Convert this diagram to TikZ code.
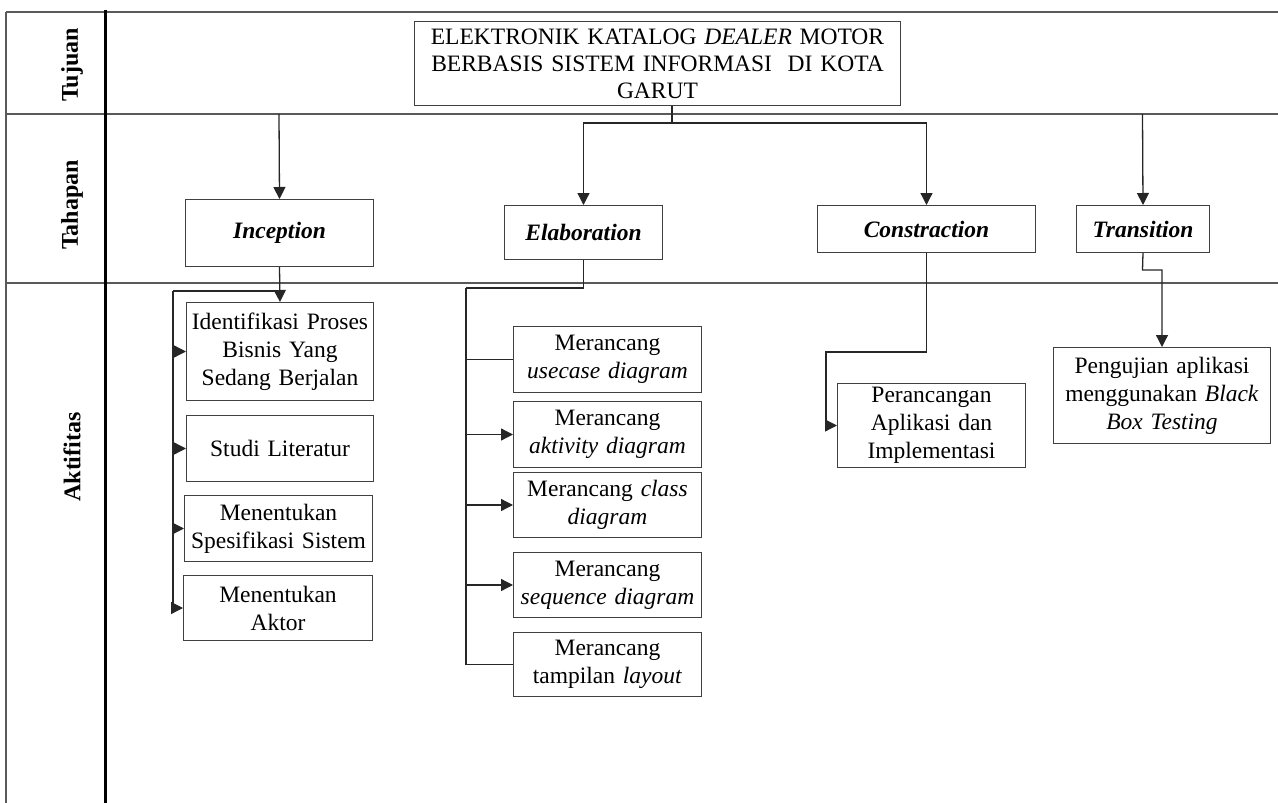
\documentclass[tikz,border=0pt]{standalone}
\usepackage{fontspec}
\setmainfont{Liberation Serif}
\usetikzlibrary{arrows.meta,calc}
\begin{document}
\begin{tikzpicture}[x=1pt,y=-1pt,
  box/.style={draw=black!75,line width=1pt,align=center,inner sep=0pt,anchor=north west,
    font=\fontsize{23.5}{28}\selectfont},
  stage/.style={box,font=\fontsize{23.5}{28}\selectfont\bfseries\itshape},
  lane/.style={draw=black!65,line width=1.5pt},
  lanelabel/.style={rotate=90,font=\fontsize{24}{28}\selectfont\bfseries,inner sep=0pt},
  conn/.style={draw=black!85,line width=1.3pt},
  arr/.style={conn,-{Triangle[length=12pt,width=12pt]}}]
\useasboundingbox (0,0) rectangle (1278,803);
% swimlanes
\draw[lane] (6,12) -- (1278,12);
\draw[lane] (6,114) -- (1278,114);
\draw[lane] (6,283) -- (1278,283);
\draw[lane] (6,12) -- (6,803);
\draw[line width=3pt] (105,10) -- (105,803);
\node[lanelabel] (lt) at (72,65) {Tujuan};
\node[lanelabel] (lh) at (72,205) {Tahapan};
\node[lanelabel] (la) at (72,457) {Aktifitas};
% title
\node[box,font=\fontsize{23.5}{27}\selectfont,text width=486pt,minimum height=84pt] (title) at (414,21)
  {ELEKTRONIK KATALOG \textit{DEALER} MOTOR\\BERBASIS SISTEM INFORMASI\ \ DI KOTA\\GARUT};
% stages
\node[stage,text width=188pt,minimum height=67pt] (inc) at (185,199) {Inception};
\node[stage,text width=158pt,minimum height=54pt] (ela) at (504,205) {Elaboration};
\node[stage,text width=218pt,minimum height=47pt] (con) at (817,205) {Constraction};
\node[stage,text width=133pt,minimum height=47pt] (tra) at (1076,205) {Transition};
% inception activities
\node[box,text width=187pt,minimum height=98pt] (idf) at (186,302) {Identifikasi Proses\\Bisnis Yang\\Sedang Berjalan};
\node[box,text width=187pt,minimum height=66pt] (stu) at (186,415) {Studi Literatur};
\node[box,text width=188pt,minimum height=66pt] (spe) at (184,495) {Menentukan\\Spesifikasi Sistem};
\node[box,text width=189pt,minimum height=65pt] (akt) at (183,575) {Menentukan\\Aktor};
% elaboration activities
\node[box,text width=188pt,minimum height=66pt] (use) at (513,326) {Merancang\\\textit{usecase diagram}};
\node[box,text width=188pt,minimum height=66pt] (act) at (513,401) {Merancang\\\textit{aktivity diagram}};
\node[box,text width=188pt,minimum height=65pt] (cla) at (513,472) {Merancang \textit{class}\\\textit{diagram}};
\node[box,text width=188pt,minimum height=65pt] (seq) at (513,552) {Merancang\\\textit{sequence diagram}};
\node[box,text width=188pt,minimum height=64pt] (lay) at (513,632) {Merancang\\tampilan \textit{layout}};
% construction / transition activities
\node[box,text width=188pt,minimum height=84pt] (per) at (837,383) {Perancangan\\Aplikasi dan\\Implementasi};
\node[box,text width=217pt,minimum height=96pt] (pen) at (1053,347) {Pengujian aplikasi\\menggunakan \textit{Black}\\\textit{Box Testing}};
% coordinates
\coordinate (j1) at (672,123);
\coordinate (i0) at (279,114);
\coordinate (t0) at (1142.5,114);
\coordinate (b1) at (173,291);
\coordinate (e1) at (466,288);
\coordinate (c1) at (826,352);
\coordinate (r1) at (1142.5,270);
% top connectors
\draw[conn] (title.south -| j1) -- (j1);
\draw[arr] (j1) -| (ela.north);
\draw[arr] (j1) -| (con.north);
\draw[arr] (i0) -- (inc.north);
\draw[arr] (t0) -- (tra.north);
% inception
\draw[arr] (inc.south) -- (idf.north);
\draw[conn] (inc.south |- b1) -- (b1);
\draw[arr] (b1) |- (idf.west);
\draw[arr] (b1) |- (stu.west);
\draw[arr] (b1) |- (spe.west);
\draw[arr] (b1) |- (akt.west);
% elaboration
\draw[conn] (ela.south) |- (e1);
\draw[conn] (e1) |- (lay.west);
\draw[conn] (e1) |- (use.west);
\draw[arr] (e1) |- (act.west);
\draw[arr] (e1) |- (cla.west);
\draw[arr] (e1) |- (seq.west);
% construction
\draw[arr] (con.south) |- (c1) |- (per.west);
% transition
\draw[arr] (tra.south) -- (r1) -| (pen.north);
\end{tikzpicture}
\end{document}
